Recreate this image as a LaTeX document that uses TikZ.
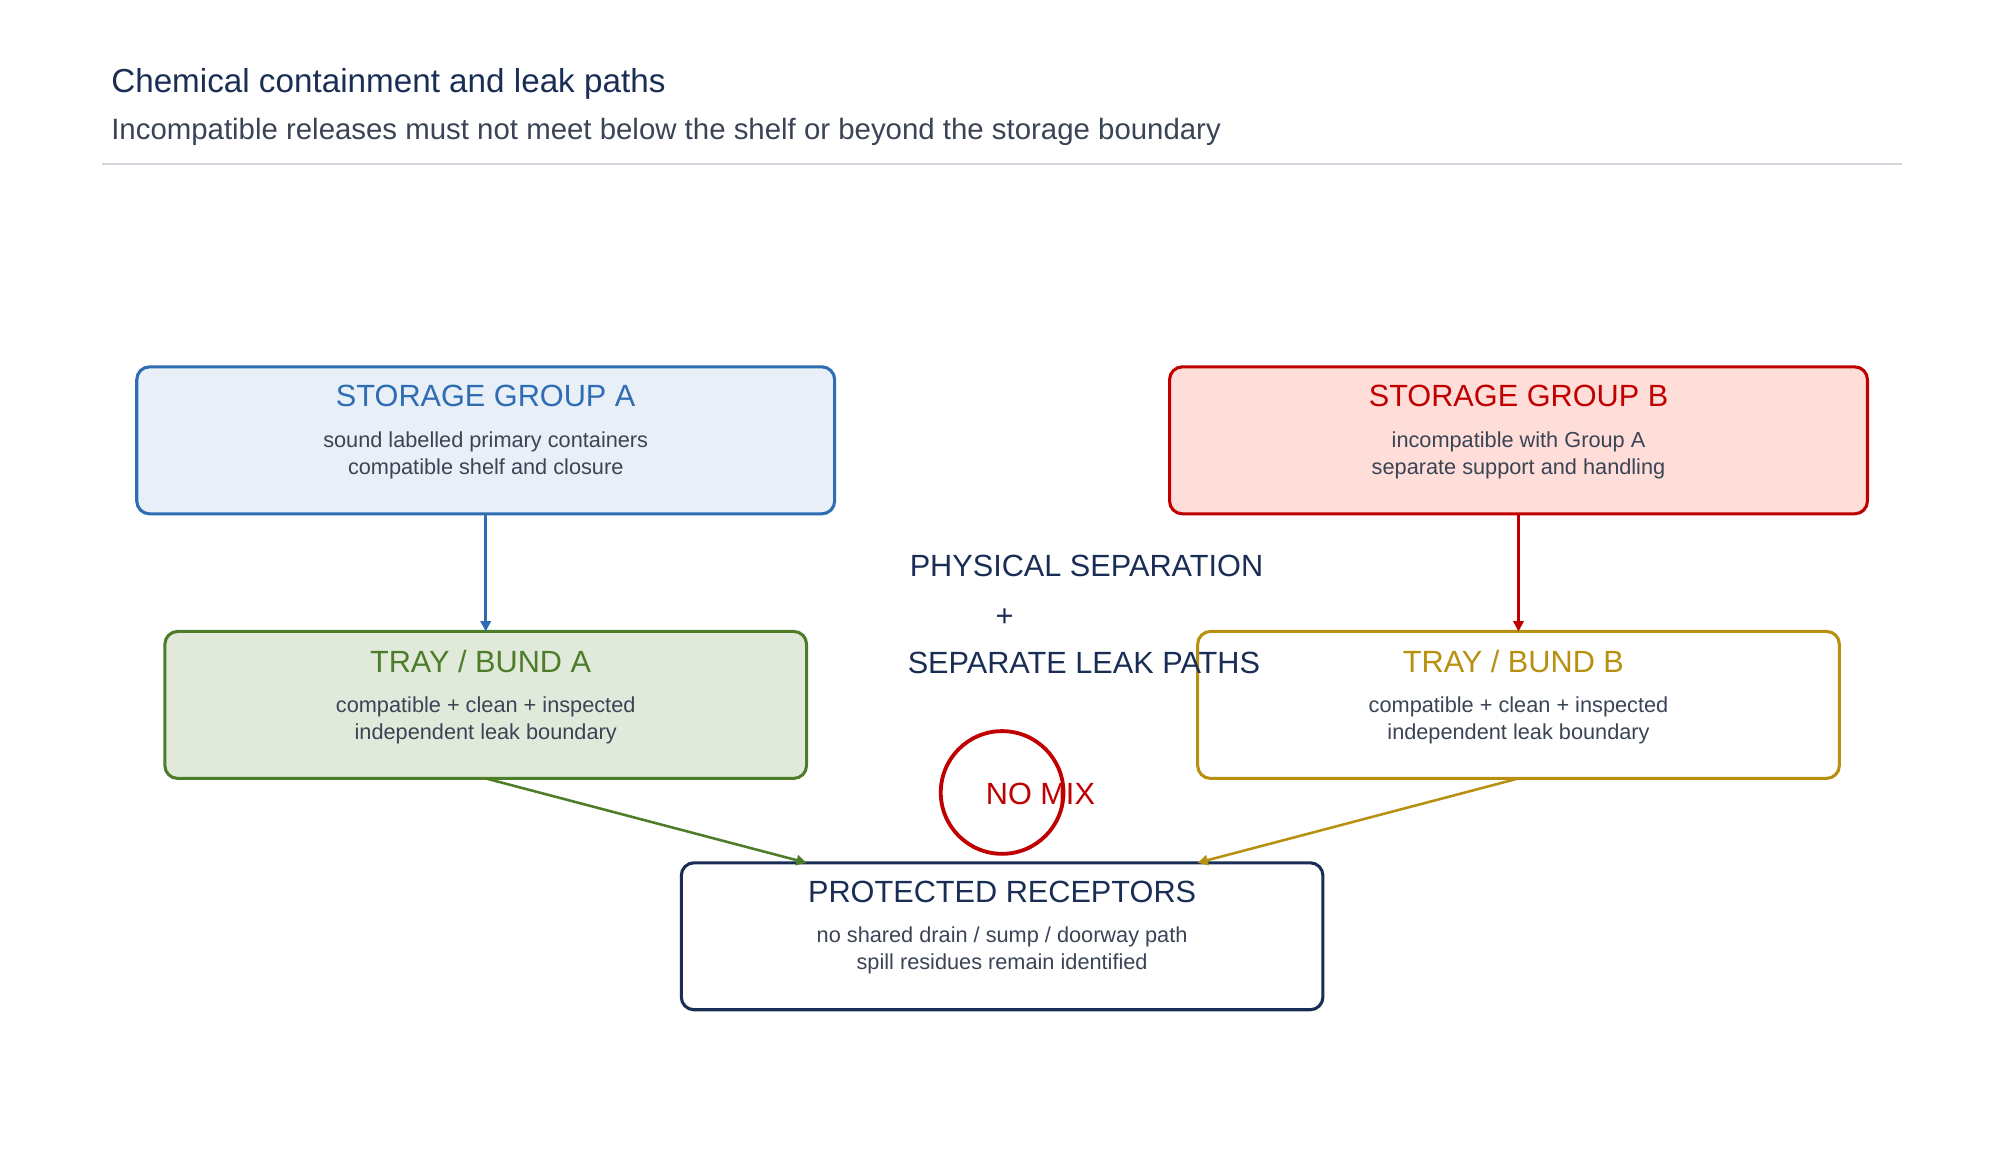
\documentclass[tikz,border=0pt]{standalone}
\usepackage{fontspec}
\setmainfont{Liberation Sans}
\usetikzlibrary{arrows.meta}
\definecolor{navy}{HTML}{1A2E55}
\definecolor{blueA}{HTML}{2E6DB4}
\definecolor{redB}{HTML}{C00000}
\definecolor{greenA}{HTML}{4E7D2A}
\definecolor{goldB}{HTML}{B8900F}
\definecolor{bodyc}{HTML}{3A4455}
\begin{document}
\begin{tikzpicture}[x=0.5pt,y=-0.5pt,
  box/.style={draw,line width=1.2pt,rounded corners=5pt,inner sep=0pt},
  head/.style={font=\fontsize{12}{14}\selectfont,anchor=base},
  body/.style={font=\fontsize{8.5}{10.5}\selectfont,text=bodyc,align=center,anchor=north},
  arr/.style={line width=1pt,-{Triangle[length=4pt,width=4pt]}}]
\useasboundingbox (0,0) rectangle (1560,908);
\node[anchor=base west,text=navy,font=\fontsize{13}{15}\selectfont] (t) at (80,72) {Chemical containment and leak paths};
\node[anchor=base west,text=bodyc,font=\fontsize{11.5}{13}\selectfont] (st) at (80,109) {Incompatible releases must not meet below the shelf or beyond the storage boundary};
\draw[color=blue!12!gray!30,line width=0.8pt] (80,128) -- (1488,128);
% boxes
\draw[box,draw=blueA,fill=blueA!11] (107,287) rectangle (653,402);
\coordinate (a) at (380,402);
\node[head,text=blueA] at (380,318) {STORAGE GROUP A};
\node[body] at (380,331) {sound labelled primary containers\\compatible shelf and closure};
\draw[box,draw=redB,fill=orange!20!red!15] (915,287) rectangle (1461,402);
\coordinate (b) at (1188,402);
\node[head,text=redB] at (1188,318) {STORAGE GROUP B};
\node[body] at (1188,331) {incompatible with Group A\\separate support and handling};
\draw[box,draw=greenA,fill=greenA!17] (129,494) rectangle (631,609);
\coordinate (ta) at (380,494); \coordinate (tab) at (380,609);
\node[head,text=greenA] at (376,526) {TRAY / BUND A};
\node[body] at (380,538) {compatible + clean + inspected\\independent leak boundary};
\draw[box,draw=goldB,fill=white] (937,494) rectangle (1439,609);
\coordinate (tb) at (1188,494); \coordinate (tbb) at (1188,609);
\node[head,text=goldB] at (1184,526) {TRAY / BUND B};
\node[body] at (1188,538) {compatible + clean + inspected\\independent leak boundary};
\draw[box,draw=navy,fill=white] (533,675) rectangle (1035,790);
\coordinate (ra) at (631,675); \coordinate (rb) at (937,675);
\node[head,text=navy] at (784,706) {PROTECTED RECEPTORS};
\node[body] at (784,718) {no shared drain / sump / doorway path\\spill residues remain identified};
% middle
\node[head,text=navy] (p1) at (850,451) {PHYSICAL SEPARATION};
\node[head,text=navy] (p2) at (786,490) {+};
\node[head,text=navy] (p3) at (848,527) {SEPARATE LEAK PATHS};
\node[draw=redB,line width=1.5pt,circle,minimum size=48pt,inner sep=0pt] (c) at (784,620) {};
\node[text=redB,font=\fontsize{12}{14}\selectfont] (nm) at (814,621) {NO MIX};
% arrows
\draw[arr,blueA] (a) -- (ta);
\draw[arr,redB] (b) -- (tb);
\draw[arr,greenA] (tab) -- (ra);
\draw[arr,goldB] (tbb) -- (rb);
\end{tikzpicture}
\end{document}
